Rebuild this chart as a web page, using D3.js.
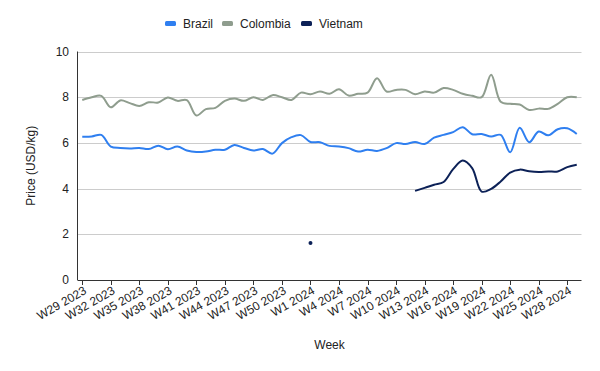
<!DOCTYPE html>
<html>
<head>
<meta charset="utf-8">
<script src="https://cdn.jsdelivr.net/npm/d3@7"></script>
<style>
  body { margin: 0; background: #fff; }
  text { font-family: "Liberation Sans", Arial, sans-serif; }
</style>
</head>
<body>
<svg id="chart" width="600" height="371"></svg>
<script>
// weeks W29 2023 .. W29 2024
const weeks = [];
for (let w = 29; w <= 52; w++) weeks.push(`W${w} 2023`);
for (let w = 1; w <= 29; w++) weeks.push(`W${w} 2024`);

const brazil = [6.27, 6.28, 6.35, 5.84, 5.78, 5.76, 5.78, 5.73, 5.88, 5.72,
  5.84, 5.67, 5.6, 5.62, 5.7, 5.7, 5.91, 5.78, 5.67, 5.73,
  5.53, 5.99, 6.25, 6.34, 6.04, 6.03, 5.87, 5.84, 5.77, 5.62,
  5.7, 5.65, 5.77, 5.99, 5.95, 6.04, 5.95, 6.23, 6.35, 6.47,
  6.69, 6.38, 6.39, 6.28, 6.35, 5.59, 6.66, 6.03, 6.5, 6.33,
  6.6, 6.64, 6.39];

const colombia = [7.88, 8.0, 8.06, 7.56, 7.86, 7.74, 7.62, 7.78, 7.77, 7.99,
  7.84, 7.87, 7.2, 7.48, 7.53, 7.84, 7.94, 7.84, 8.0, 7.88,
  8.09, 8.0, 7.88, 8.2, 8.13, 8.25, 8.15, 8.35, 8.07, 8.15,
  8.2, 8.83, 8.25, 8.32, 8.32, 8.13, 8.25, 8.2, 8.4, 8.32,
  8.15, 8.06, 8.0, 8.98, 7.8, 7.71, 7.68, 7.44, 7.5, 7.49,
  7.71, 8.0, 8.0];

const vietnam = [null, null, null, null, null, null, null, null, null, null,
  null, null, null, null, null, null, null, null, null, null,
  null, null, null, null, 1.62, null, null, null, null, null,
  null, null, null, null, null, 3.9, 4.03, 4.17, 4.29, 4.85,
  5.23, 4.9, 3.87, 3.99, 4.31, 4.7, 4.83, 4.76, 4.73, 4.75,
  4.75, 4.94, 5.04];

const yTicks = [0, 2, 4, 6, 8, 10];

const series = [
  { name: "Brazil", values: brazil, color: "#2f7ff0" },
  { name: "Colombia", values: colombia, color: "#8f9d8e" },
  { name: "Vietnam", values: vietnam, color: "#0c2157" }
];

const svg = d3.select("#chart");
const mLeft = 77.5, mRight = 581.5, mTop = 51.5, mBottom = 280;

const x = d3.scaleBand().domain(weeks).range([mLeft, mRight]);
const xc = d => x(d) + x.bandwidth() / 2;
const y = d3.scaleLinear().domain([0, 10]).range([mBottom, mTop]);

// gridlines
svg.append("g")
  .selectAll("line")
  .data(yTicks.filter(t => t > 0))
  .join("line")
    .attr("x1", mLeft).attr("x2", mRight)
    .attr("y1", d => Math.round(y(d)) + 0.5).attr("y2", d => Math.round(y(d)) + 0.5)
    .attr("stroke", "#cccccc");

// y axis labels
svg.append("g")
  .selectAll("text")
  .data(yTicks)
  .join("text")
    .attr("x", 69).attr("y", d => y(d) + 4)
    .attr("text-anchor", "end")
    .attr("font-size", 12)
    .attr("fill", "#222")
    .text(d => d);

// x axis ticks + labels
const shown = weeks.filter((d, i) => i % 3 === 0);
const xg = svg.append("g");
xg.selectAll("line")
  .data(shown)
  .join("line")
    .attr("x1", d => Math.round(xc(d)) + 0.5).attr("x2", d => Math.round(xc(d)) + 0.5)
    .attr("y1", mBottom).attr("y2", mBottom + 5)
    .attr("stroke", "#333");
xg.selectAll("text")
  .data(shown)
  .join("text")
    .attr("text-anchor", "end")
    .attr("font-size", 12)
    .attr("fill", "#222")
    .attr("transform", d => `translate(${xc(d) + 5},${mBottom + 13}) rotate(-30)`)
    .text(d => d);

// axis lines
svg.append("line")
  .attr("x1", mLeft).attr("x2", mLeft).attr("y1", mTop).attr("y2", mBottom)
  .attr("stroke", "#333");
svg.append("line")
  .attr("x1", mLeft).attr("x2", mRight).attr("y1", mBottom + 0.5).attr("y2", mBottom + 0.5)
  .attr("stroke", "#333");

// series lines
const line = d3.line()
  .defined(d => d != null)
  .x((d, i) => xc(weeks[i]))
  .y(d => y(d))
  .curve(d3.curveCatmullRom.alpha(0.5));

series.forEach(s => {
  svg.append("path")
    .datum(s.values)
    .attr("fill", "none")
    .attr("stroke", s.color)
    .attr("stroke-width", 2)
    .attr("d", line);

  // lone points (no neighbours) as dots
  const lone = s.values.map((v, i) => ({ v, i }))
    .filter(p => p.v != null && s.values[p.i - 1] == null && s.values[p.i + 1] == null);
  svg.selectAll(null)
    .data(lone)
    .join("circle")
      .attr("cx", p => xc(weeks[p.i]))
      .attr("cy", p => y(p.v))
      .attr("r", 2)
      .attr("fill", s.color);
});

// legend
const legendX = [165, 222, 301];
const legend = svg.append("g")
  .selectAll("g")
  .data(series)
  .join("g")
    .attr("transform", (d, i) => `translate(${legendX[i]},25)`);
legend.append("rect")
  .attr("x", 0).attr("y", -4).attr("width", 11).attr("height", 5).attr("rx", 1.5)
  .attr("fill", d => d.color);
legend.append("text")
  .attr("x", 18).attr("y", 3)
  .attr("font-size", 12)
  .attr("fill", "#222")
  .text(d => d.name);

// axis titles
svg.append("text")
  .attr("x", (mLeft + mRight) / 2).attr("y", 349)
  .attr("text-anchor", "middle")
  .attr("font-size", 12)
  .attr("fill", "#222")
  .text("Week");

svg.append("text")
  .attr("transform", `translate(35,${(mTop + mBottom) / 2}) rotate(-90)`)
  .attr("text-anchor", "middle")
  .attr("font-size", 12)
  .attr("fill", "#222")
  .text("Price (USD/kg)");
</script>
</body>
</html>
